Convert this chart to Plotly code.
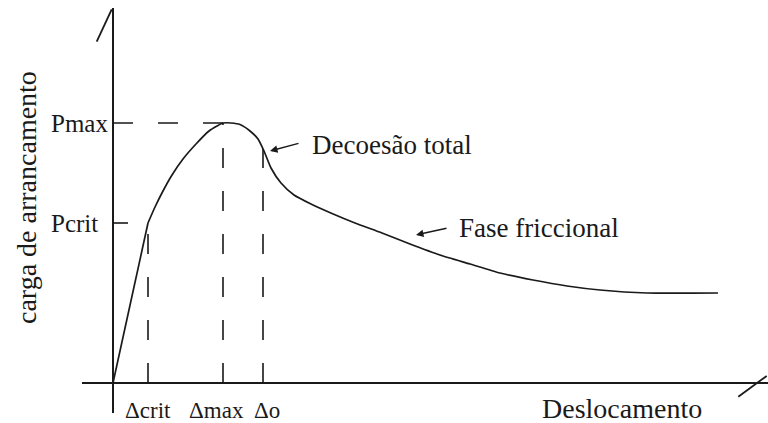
import plotly.graph_objects as go

# Pull-out load vs. displacement curve (arbitrary units)
displacement = [0.0, 3.5, 4.2, 5.0, 5.9, 7.0, 8.3, 9.6, 10.4, 11.0, 11.8, 12.7, 13.7,
                14.5, 15.1, 15.8, 16.8, 18.1, 19.8, 21.9, 24.2, 26.9, 29.7, 32.7,
                35.7, 38.7, 42.0, 45.4, 48.7, 53.4, 60.5]
load = [0.0, 16.0, 17.6, 19.2, 20.8, 22.4, 23.9, 25.2, 25.7, 26.0, 26.0, 25.85, 25.2,
        24.4, 23.2, 21.5, 20.0, 18.8, 17.9, 16.95, 16.0, 15.0, 13.9, 12.8,
        11.9, 11.0, 10.3, 9.7, 9.3, 9.0, 9.0]

# Characteristic displacements and the load reached at each of them
delta_labels = ["Δcrit", "Δmax", "Δo"]
delta_values = [3.5, 11.0, 15.0]
delta_loads = [16.0, 26.0, 23.4]

# Characteristic loads
load_labels = ["Pmax", "Pcrit"]
load_values = [26.0, 16.0]

INK = "#1a1a1a"
SERIF = "Liberation Serif, Times New Roman, serif"

fig = go.Figure()

# linear elastic branch
fig.add_trace(go.Scatter(x=displacement[:2], y=load[:2], mode="lines",
                         line=dict(color=INK, width=1.7), hoverinfo="skip"))
# debonding and frictional branch
fig.add_trace(go.Scatter(x=displacement[1:], y=load[1:], mode="lines",
                         line=dict(color=INK, width=1.7, shape="spline", smoothing=0.6),
                         hoverinfo="skip"))

# vertical dashed drop lines from the axis to the curve
for dx, dy in zip(delta_values, delta_loads):
    fig.add_trace(go.Scatter(x=[dx, dx], y=[0, dy], mode="lines",
                             line=dict(color=INK, width=1.6, dash="20px,23px"),
                             hoverinfo="skip"))

# horizontal guides for Pmax (dashed) and Pcrit (short tick)
fig.add_trace(go.Scatter(x=[0, delta_values[1]], y=[load_values[0]] * 2, mode="lines",
                         line=dict(color=INK, width=1.6, dash="20px,25px"), hoverinfo="skip"))
fig.add_trace(go.Scatter(x=[0, delta_values[0]], y=[load_values[1]] * 2, mode="lines",
                         line=dict(color=INK, width=1.6, dash="15px,40px"), hoverinfo="skip"))

annotations = []
# load labels on the left of the vertical axis
for lab, val in zip(load_labels, load_values):
    annotations.append(dict(x=0, y=val, xref="x", yref="y", text=lab, showarrow=False,
                            xanchor="left", yanchor="middle", xshift=-64,
                            font=dict(family=SERIF, size=25, color=INK)))
# displacement labels under the horizontal axis
for lab, val, sh in zip(delta_labels, delta_values, [0, -7, 4]):
    annotations.append(dict(x=val, y=0, xref="x", yref="y", text=lab, showarrow=False,
                            xanchor="center", yanchor="middle", yshift=-27, xshift=sh,
                            font=dict(family=SERIF, size=23, color=INK)))

# axis titles
annotations.append(dict(x=0, y=18.5, xref="x", yref="y", text="carga de arrancamento",
                        showarrow=False, textangle=-90, xanchor="center", yanchor="middle",
                        xshift=-87, font=dict(family=SERIF, size=28, color=INK)))
annotations.append(dict(x=50.9, y=0, xref="x", yref="y", text="Deslocamento",
                        showarrow=False, xanchor="center", yanchor="middle", yshift=-25,
                        font=dict(family=SERIF, size=28, color=INK)))

# callouts
annotations.append(dict(x=19.7, y=23.8, xref="x", yref="y", text="Decoesão total",
                        showarrow=False, xanchor="left", yanchor="middle",
                        font=dict(family=SERIF, size=27, color=INK)))
annotations.append(dict(x=15.7, y=23.2, ax=18.7, ay=24.0, xref="x", yref="y",
                        axref="x", ayref="y", text="", showarrow=True, arrowhead=2,
                        arrowsize=1, arrowwidth=1.5, arrowcolor=INK, standoff=0))
annotations.append(dict(x=34.4, y=15.5, xref="x", yref="y", text="Fase friccional",
                        showarrow=False, xanchor="left", yanchor="middle",
                        font=dict(family=SERIF, size=27, color=INK)))
annotations.append(dict(x=30.3, y=14.8, ax=33.5, ay=15.5, xref="x", yref="y",
                        axref="x", ayref="y", text="", showarrow=True, arrowhead=2,
                        arrowsize=1, arrowwidth=1.5, arrowcolor=INK, standoff=0))

# slanted end marks of the axes
shapes = [
    dict(type="line", xref="x", yref="y", x0=-1.63, y0=34.13, x1=-0.13, y1=37.37,
         line=dict(color=INK, width=1.8)),
    dict(type="line", xref="x", yref="y", x0=62.53, y0=-1.37, x1=65.37, y1=0.7,
         line=dict(color=INK, width=1.8)),
]

fig.update_layout(
    width=768, height=423,
    margin=dict(l=82, r=0, t=8, b=10),
    paper_bgcolor="white", plot_bgcolor="white",
    showlegend=False,
    annotations=annotations, shapes=shapes,
    xaxis=dict(range=[-3.1, 65.5], showgrid=False, showticklabels=False, ticks="",
               zeroline=True, zerolinecolor=INK, zerolinewidth=2, showline=False,
               fixedrange=True),
    yaxis=dict(range=[-3.0, 37.5], showgrid=False, showticklabels=False, ticks="",
               zeroline=True, zerolinecolor=INK, zerolinewidth=2, showline=False,
               fixedrange=True),
)

fig.write_html("out.html", config={"displayModeBar": False})
